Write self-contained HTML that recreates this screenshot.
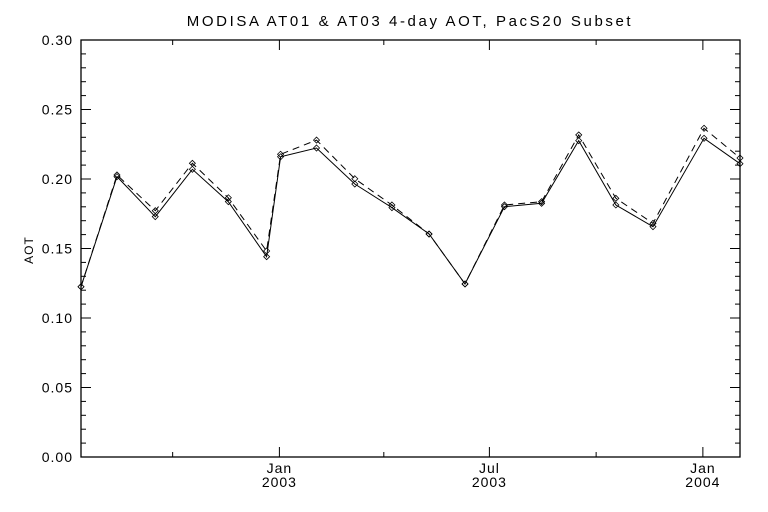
<!DOCTYPE html>
<html><head><meta charset="utf-8"><style>
html,body{margin:0;padding:0;background:#fff;}
svg{display:block;font-family:"Liberation Sans",sans-serif;}
</style></head><body>
<svg id="chart" width="768" height="512" viewBox="0 0 768 512">
<rect width="768" height="512" fill="#fff"/>
<text x="410" y="26" font-size="15" letter-spacing="2.6" text-anchor="middle">MODISA AT01 &amp; AT03 4-day AOT, PacS20 Subset</text>
<text transform="translate(33,250) rotate(-90)" font-size="12" letter-spacing="1" text-anchor="middle">AOT</text>
<g id="axes"></g>
<g id="series"></g>
</svg>
<script>
const days = [-171,-140,-107,-75,-44,-11,1,32,65,97,129,160,194,226,258,290,322,366,397];
const at01 = [0.1225,0.2017,0.1729,0.207,0.1837,0.1441,0.216,0.2223,0.1964,0.1794,0.1604,0.1245,0.1801,0.1825,0.2276,0.1813,0.1657,0.2293,0.211];
const at03 = [0.1225,0.2029,0.1772,0.2113,0.1865,0.1482,0.2178,0.228,0.2002,0.1813,0.1604,0.1245,0.1813,0.1837,0.2317,0.1861,0.1681,0.2365,0.2151];
const yTicks = ["0.00","0.05","0.10","0.15","0.20","0.25","0.30"];
const xMajorDays = [0,181,365];
const xMajorLabels = [["Jan","2003"],["Jul","2003"],["Jan","2004"]];
const xMinorDays = [-92,90,273];

const L=81,R=740,T=40,B=457;
const dayMin=-171,dayMax=397,yMin=0,yMax=0.30;
const xs=d=>L+(d-dayMin)/(dayMax-dayMin)*(R-L);
const ys=v=>B-(v-yMin)/(yMax-yMin)*(B-T);
const NS="http://www.w3.org/2000/svg";
const ax=document.getElementById('axes'), sg=document.getElementById('series');
function mk(tag,attrs,parent){const e=document.createElementNS(NS,tag);for(const k in attrs)e.setAttribute(k,attrs[k]);parent.appendChild(e);return e;}

const frame=mk('rect',{x:L,y:T,width:R-L,height:B-T,fill:'none',stroke:'#000','stroke-width':1.3},ax);



for(let i=0;i<=30;i++){
  const v=i*0.01,y=ys(v),major=i%5===0,len=major?10:5;
  const t1=mk('line',{x1:L,x2:L+len,y1:y,y2:y,stroke:'#000'},ax);
  
  
  const t2=mk('line',{x1:R,x2:R-len,y1:y,y2:y,stroke:'#000'},ax);
  
  
}
yTicks.forEach(s=>{
  const t=mk('text',{x:L-8,y:ys(parseFloat(s))+5,'font-size':14,'letter-spacing':1,'text-anchor':'end'},ax);
  t.textContent=s;
  
  
});
xMajorDays.forEach((d,i)=>{
  const x=xs(d);
  const a=mk('line',{x1:x,x2:x,y1:B,y2:B-10,stroke:'#000'},ax);
  
  
  const b=mk('line',{x1:x,x2:x,y1:T,y2:T+10,stroke:'#000'},ax);
  
  
  xMajorLabels[i].forEach((s,j)=>{
    const t=mk('text',{x:x,y:B+16+j*14,'font-size':14,'letter-spacing':1,'text-anchor':'middle'},ax);
    t.textContent=s;
    
    
  });
});
xMinorDays.forEach(d=>{
  const x=xs(d);
  const a=mk('line',{x1:x,x2:x,y1:B,y2:B-5,stroke:'#000'},ax);
  
  
  const b=mk('line',{x1:x,x2:x,y1:T,y2:T+5,stroke:'#000'},ax);
  
  
});

function drawSeries(vals,dash,name){
  const pts=vals.map((v,i)=>xs(days[i]).toFixed(1)+','+ys(v).toFixed(1)).join(' ');
  const pl=mk('polyline',{points:pts,fill:'none',stroke:'#000','stroke-width':1,'stroke-dasharray':dash},sg);
  
  
  vals.forEach((v,i)=>{
    const x=xs(days[i]),y=ys(v);
    const p=mk('polygon',{points:`${x},${y-3} ${x+3},${y} ${x},${y+3} ${x-3},${y}`,fill:'none',stroke:'#000','stroke-width':0.8},sg);
    
    
  });
}
drawSeries(at03,'7,5','at03');
drawSeries(at01,'none','at01');
</script>
</body></html>
